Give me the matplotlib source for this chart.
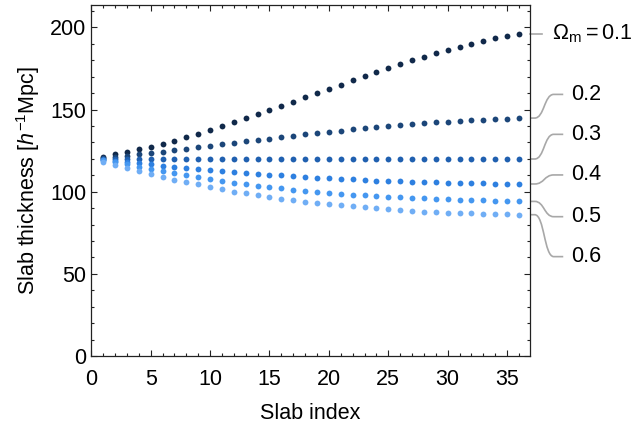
import matplotlib
matplotlib.use("Agg")
import matplotlib.pyplot as plt
from matplotlib.path import Path
from matplotlib.patches import PathPatch
from matplotlib.ticker import MultipleLocator

plt.rcParams["font.family"] = ["Liberation Sans", "DejaVu Sans"]
plt.rcParams["mathtext.fontset"] = "custom"
plt.rcParams["mathtext.rm"] = "Liberation Sans"
plt.rcParams["mathtext.it"] = "Liberation Sans:italic"
plt.rcParams["mathtext.bf"] = "Liberation Sans:bold"

# Slab thickness vs. slab index for several matter densities
slab_index = list(range(1, 37))
omega_m = ["0.1", "0.2", "0.3", "0.4", "0.5", "0.6"]

thick_01 = [121.3, 122.9, 124.3, 125.8, 127.4, 129.0, 130.9, 133.2, 135.3, 137.7,
            140.0, 142.2, 144.6, 147.1, 149.7, 152.1, 154.7, 157.4, 160.0, 162.6,
            165.1, 167.8, 170.2, 172.8, 175.2, 177.7, 179.9, 182.1, 184.2, 186.2,
            188.0, 190.0, 191.6, 193.3, 194.7, 196.1]
thick_02 = [120.4, 121.1, 121.9, 122.7, 123.5, 124.3, 125.4, 126.2, 127.2, 128.0,
            128.8, 129.8, 130.8, 131.6, 132.2, 133.3, 134.1, 134.9, 135.7, 136.3,
            137.1, 137.9, 138.7, 139.4, 140.0, 140.6, 141.2, 141.6, 142.2, 142.6,
            143.0, 143.4, 143.8, 144.2, 144.4, 144.8]
thick_03 = [120.0, 120.0, 120.0, 120.0, 119.9, 119.9, 119.9, 119.9, 119.9, 119.9,
            119.9, 119.9, 119.9, 119.9, 119.9, 119.9, 119.9, 119.9, 119.9, 119.9,
            119.9, 119.9, 119.9, 119.9, 119.9, 119.9, 119.9, 119.9, 119.9, 119.9,
            119.9, 119.9, 119.9, 119.9, 119.9, 119.9]
thick_04 = [119.3, 118.7, 118.1, 117.4, 116.7, 115.8, 115.2, 114.6, 113.8, 113.2,
            112.6, 112.0, 111.4, 110.9, 110.3, 110.0, 109.4, 108.9, 108.5, 108.1,
            107.7, 107.5, 107.1, 106.7, 106.5, 106.3, 106.1, 105.9, 105.7, 105.5,
            105.3, 105.1, 105.1, 104.9, 104.9, 104.7]
thick_05 = [119.0, 117.8, 116.6, 115.3, 114.0, 112.6, 111.2, 110.0, 108.9, 107.7,
            106.5, 105.5, 104.7, 103.7, 102.9, 102.1, 101.2, 100.4, 99.8, 99.4,
            98.8, 98.2, 97.8, 97.4, 97.0, 96.6, 96.2, 96.0, 95.6, 95.4,
            95.2, 95.0, 94.7, 94.5, 94.3, 94.1]
thick_06 = [118.2, 116.3, 114.4, 112.7, 110.9, 109.1, 107.3, 105.7, 104.5, 102.9,
            101.4, 100.0, 99.0, 97.8, 96.6, 95.6, 94.8, 93.7, 92.9, 92.3,
            91.7, 91.1, 90.5, 89.9, 89.3, 88.7, 88.3, 87.8, 87.5, 87.2,
            87.0, 86.8, 86.6, 86.4, 86.3, 86.0]

series = [thick_01, thick_02, thick_03, thick_04, thick_05, thick_06]
colors = ["#11294a", "#1c4679", "#2060b0", "#2e80e0", "#4597f0", "#70aef5"]

# vertical placement (data units) of the right-hand labels
label_y = [196.1, 159.2, 134.9, 110.2, 84.8, 60.5]

fig = plt.figure(figsize=(6.39, 4.29), dpi=100)
ax = fig.add_axes([0.1429, 0.170, 0.6865, 0.818])

for vals, c in zip(series, colors):
    ax.plot(slab_index, vals, "o", color=c, markersize=4.2, markeredgewidth=0)

ax.set_xlim(0, 36.93)
ax.set_ylim(0, 213.5)
ax.xaxis.set_major_locator(MultipleLocator(5))
ax.xaxis.set_minor_locator(MultipleLocator(1))
ax.yaxis.set_major_locator(MultipleLocator(50))
ax.yaxis.set_minor_locator(MultipleLocator(10))
ax.tick_params(which="both", direction="in", top=True, right=True,
               colors="#222222", labelcolor="black", width=0.8)
ax.tick_params(which="major", length=4.0, labelsize=15.5)
ax.tick_params(which="minor", length=2.3)
ax.tick_params(axis="x", which="major", pad=9.5)
ax.tick_params(axis="y", which="major", pad=3.6)
for sp in ax.spines.values():
    sp.set_linewidth(0.9)
    sp.set_color("#222222")

ax.set_xlabel("Slab index", fontsize=15.5, labelpad=9)
ax.set_ylabel(r"Slab thickness [$h^{-1}$Mpc]", fontsize=15.5, labelpad=6)

# callout lines from the last point of each series to its label
x0 = ax.get_xlim()[1]
for vals, ly, name in zip(series, label_y, omega_m):
    y0 = vals[-1]
    if name == "0.1":
        ax.plot([x0, x0 + 1.0], [y0, y0], color="#a8a8a8", linewidth=1.2,
                clip_on=False)
        ax.text(x0 + 1.85, ly, r"$\Omega_{\mathrm{m}}=0.1$", fontsize=15.5,
                ha="left", va="center", clip_on=False)
        continue
    verts = [(x0, y0), (x0 + 0.4, y0), (x0 + 1.2, y0), (x0 + 1.2, ly),
             (x0 + 2.0, ly), (x0 + 2.8, ly)]
    codes = [Path.MOVETO, Path.LINETO, Path.CURVE4, Path.CURVE4, Path.CURVE4,
             Path.LINETO]
    ax.add_patch(PathPatch(Path(verts, codes), facecolor="none",
                           edgecolor="#a8a8a8", linewidth=1.2, clip_on=False))
    ax.text(x0 + 3.5, ly, name, fontsize=15.5, ha="left", va="center",
            clip_on=False)

fig.savefig("out.png", dpi=100)
